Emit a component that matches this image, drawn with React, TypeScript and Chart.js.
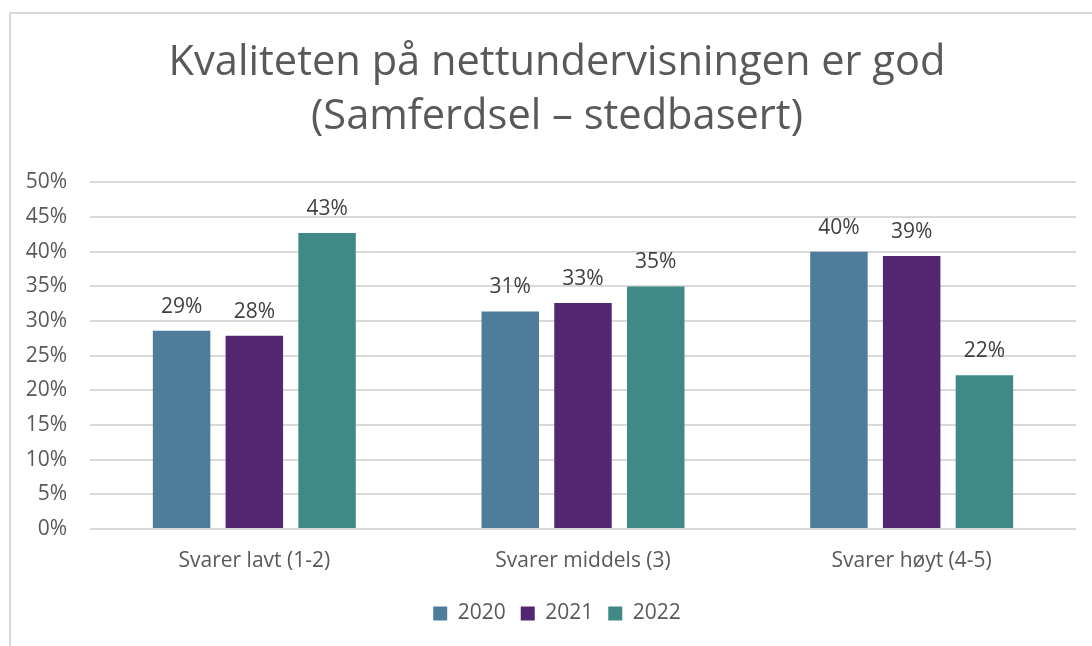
import React, { useEffect, useRef } from "react";
import { Chart, registerables } from "chart.js";

Chart.register(...registerables);

const categories = ["Svarer lavt (1-2)", "Svarer middels (3)", "Svarer høyt (4-5)"];
const seriesNames = ["2020", "2021", "2022"];
const values2020 = [28.6, 31.4, 40.0];
const values2021 = [27.9, 32.6, 39.4];
const values2022 = [42.7, 35.0, 22.2];
const seriesColors = ["#4E7C9B", "#532672", "#3F8A87"];
const titleLines = ["Kvaliteten på nettundervisningen er god", "(Samferdsel – stedbasert)"];

const FONT = "'Open Sans', sans-serif";

const dataLabelPlugin = {
  id: "dataLabels",
  afterDatasetsDraw(chart: any) {
    const ctx = chart.ctx;
    ctx.save();
    ctx.font = `21px ${FONT}`;
    ctx.fillStyle = "#404040";
    ctx.textAlign = "center";
    ctx.textBaseline = "alphabetic";
    chart.data.datasets.forEach((ds: any, i: number) => {
      const meta = chart.getDatasetMeta(i);
      meta.data.forEach((bar: any, j: number) => {
        const v = ds.data[j];
        ctx.fillText(Math.round(v) + "%", bar.x, bar.y - 18);
      });
    });
    ctx.restore();
  },
};

export default function App() {
  const ref = useRef<HTMLCanvasElement>(null);
  useEffect(() => {
    const allValues = [values2020, values2021, values2022];
    const chart = new Chart(ref.current!, {
      type: "bar",
      data: {
        labels: categories,
        datasets: seriesNames.map((name, i) => ({
          label: name,
          data: allValues[i],
          backgroundColor: seriesColors[i],
          borderWidth: 0,
          categoryPercentage: 0.664,
          barPercentage: 0.79,
        })),
      },
      options: {
        animation: false,
        responsive: false,
        maintainAspectRatio: false,
        layout: { padding: { left: 0, right: 0, top: 0, bottom: 14 } },
        plugins: {
          title: {
            display: true,
            text: titleLines,
            color: "#595959",
            font: { family: FONT, size: 41.6, weight: "normal", lineHeight: 1.28 },
            padding: { top: 23, bottom: 39 },
          },
          legend: {
            position: "bottom",
            labels: {
              color: "#595959",
              font: { family: FONT, size: 21 },
              boxWidth: 14,
              boxHeight: 14,
              padding: 15,
            },
          },
          tooltip: { enabled: false },
        },
        scales: {
          x: {
            grid: { display: false },
            border: { display: false },
            ticks: { color: "#595959", font: { family: FONT, size: 21 }, padding: 11 },
            afterFit: (s: any) => { s.height = 59; },
          },
          y: {
            min: 0,
            max: 50,
            ticks: {
              stepSize: 5,
              color: "#595959",
              font: { family: FONT, size: 21 },
              padding: 23,
              callback: (v: any) => v + "%",
            },
            grid: { color: "#D9D9D9", lineWidth: 2, drawTicks: false },
            border: { display: false },
            afterFit: (s: any) => { s.width = 79; },
          },
          yRightSpace: {
            position: "right",
            display: true,
            min: 0,
            max: 50,
            grid: { display: false, drawTicks: false },
            border: { display: false },
            ticks: { display: false },
            afterFit: (s: any) => { s.width = 27; },
          },
        },
      },
      plugins: [dataLabelPlugin],
    });
    return () => chart.destroy();
  }, []);
  return (
    <div style={{ position: "fixed", left: 0, top: 0, width: 1092, height: 646, overflow: "hidden", background: "#fff" }}>
      <div style={{ position: "absolute", left: 9, top: 12, width: 1094, height: 660, borderLeft: "2px solid #D9D9D9", borderTop: "2px solid #D9D9D9", boxSizing: "border-box" }}>
        <canvas ref={ref} width={1092} height={634} style={{ display: "block" }} />
      </div>
    </div>
  );
}
